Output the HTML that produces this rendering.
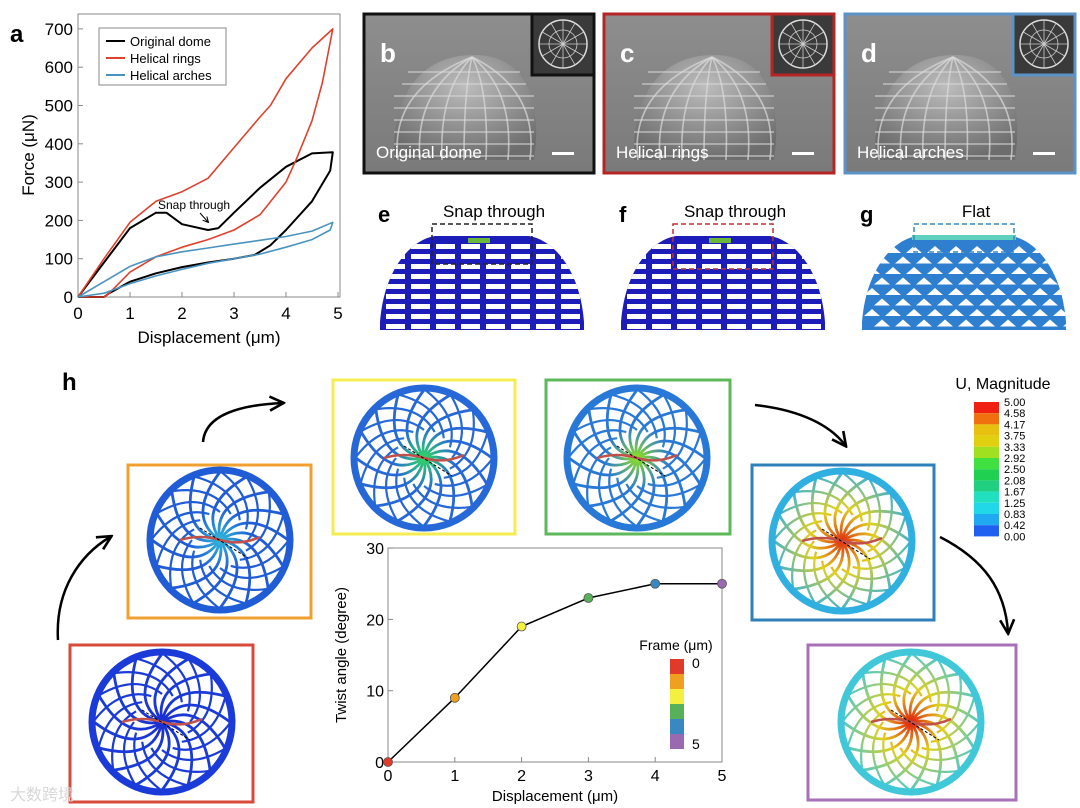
<!DOCTYPE html>
<html><head><meta charset="utf-8"><style>
html,body{margin:0;padding:0;background:#fff;}
svg{display:block;font-family:"Liberation Sans",Arial,sans-serif;}
</style></head><body>
<svg id="fig" width="1080" height="808" viewBox="0 0 1080 808" xmlns="http://www.w3.org/2000/svg">
<defs>
<linearGradient id="semg" x1="0" y1="0" x2="0" y2="1"><stop offset="0" stop-color="#8e8e8e"/><stop offset="1" stop-color="#7a7a7a"/></linearGradient>
<radialGradient id="domeg" cx="0.5" cy="0.3" r="0.7"><stop offset="0" stop-color="#bdbdbd"/><stop offset="1" stop-color="#6d6d6d"/></radialGradient>
<marker id="ah" viewBox="0 0 10 10" refX="8" refY="5" markerWidth="7" markerHeight="7" orient="auto"><path d="M1,1 L9,5 L1,9" fill="none" stroke="#000" stroke-width="1.5"/></marker>
</defs>

<!-- Panel a -->
<g>
<text x="10" y="42" font-size="24" font-weight="bold">a</text>
<rect x="78" y="14" width="262" height="283" fill="none" stroke="#888" stroke-width="1"/>
<g id="aTicks"></g>
<g id="aLines"></g>
<text x="34" y="155" font-size="17" text-anchor="middle" transform="rotate(-90 34 155)">Force (μN)</text>
<text x="209" y="343" font-size="17" text-anchor="middle">Displacement (μm)</text>
<g>
<rect x="99" y="28" width="127" height="57" fill="#fff" stroke="#888"/>
<line x1="106" y1="41" x2="125" y2="41" stroke="#000" stroke-width="2"/><text x="130" y="46" font-size="13">Original dome</text>
<line x1="106" y1="58" x2="125" y2="58" stroke="#e0412c" stroke-width="2"/><text x="130" y="63" font-size="13">Helical rings</text>
<line x1="106" y1="75" x2="125" y2="75" stroke="#4a93c0" stroke-width="2"/><text x="130" y="80" font-size="13">Helical arches</text>
</g>
<text x="158" y="209" font-size="12">Snap through</text>
<path d="M200,213 L208,222" stroke="#000" stroke-width="1" marker-end="url(#ah)"/>
</g>

<g id="sem"></g>
<g id="fe"></g>

<text x="62" y="390" font-size="24" font-weight="bold">h</text>
<g id="frames"></g>
<g fill="none" stroke="#000" stroke-width="2.5">
<path d="M58,640 C55,590 80,555 110,537" marker-end="url(#ah)"/>
<path d="M203,442 C205,415 240,405 282,403" marker-end="url(#ah)"/>
<path d="M755,405 C800,410 830,425 845,445" marker-end="url(#ah)"/>
<path d="M940,537 C985,560 1005,590 1008,632" marker-end="url(#ah)"/>
</g>

<g>
<text x="1003" y="389" font-size="16" text-anchor="middle">U, Magnitude</text>
<g id="cbar"></g>
</g>

<g>
<rect x="388" y="548" width="334" height="214" fill="#fff" stroke="#888"/>
<g id="tTicks"></g>
<g id="tLines"></g>
<text x="346" y="655" font-size="15" text-anchor="middle" transform="rotate(-90 346 655)">Twist angle (degree)</text>
<text x="555" y="801" font-size="15" text-anchor="middle">Displacement (μm)</text>
<text x="676" y="650" font-size="14" text-anchor="middle">Frame (μm)</text>
<g id="fbar"></g>
<text x="692" y="668" font-size="14">0</text>
<text x="692" y="749" font-size="14">5</text>
</g>
<text x="10" y="800" font-size="16" fill="#d8d8d8">大数跨境</text>
</svg>
<script>
const NS="http://www.w3.org/2000/svg";
function mk(tag,attrs,parent){const e=document.createElementNS(NS,tag);for(const k in attrs)e.setAttribute(k,attrs[k]);parent.appendChild(e);return e;}

/* ---- Panel a data ---- */
const aXTicks=[0,1,2,3,4,5];
const aYTicks=[0,100,200,300,400,500,600,700];
const domeX=[0,0.5,1,1.5,1.7,2,2.5,2.7,3,3.5,4,4.5,4.9,4.85,4.5,4,3.7,3.4,3,2.5,2,1.5,1,0.6,0.5,0];
const domeY=[0,90,180,220,220,190,175,180,220,285,340,375,378,330,250,175,135,110,100,90,78,62,40,10,0,0];
const ringsX=[0,0.5,1,1.5,2,2.5,3,3.5,3.7,4,4.5,4.9,4.7,4.5,4.2,4,3.5,3,2.5,2,1.5,1,0.6,0.5,0];
const ringsY=[0,100,195,250,275,310,390,470,500,570,650,700,560,460,360,300,215,175,150,130,105,65,10,0,0];
const archesX=[0,0.5,1,1.5,2,2.5,3,3.5,4,4.5,4.9,4.85,4.5,4,3.5,3,2.5,2,1.5,1,0.5,0];
const archesY=[0,40,80,105,118,128,138,148,158,172,195,175,150,130,112,100,88,72,55,35,10,0];
const ax=v=>78+v*52, ay=v=>297-v*0.383;
const aT=document.getElementById('aTicks');
aXTicks.forEach(v=>{const l=mk('line',{x1:ax(v),y1:297,x2:ax(v),y2:292,stroke:'#888'},aT);

const t=mk('text',{x:ax(v),y:319,'font-size':17,'text-anchor':'middle'},aT);t.textContent=v;
});
aYTicks.forEach(v=>{const l=mk('line',{x1:78,y1:ay(v),x2:83,y2:ay(v),stroke:'#888'},aT);

const t=mk('text',{x:73,y:ay(v)+6,'font-size':17,'text-anchor':'end'},aT);t.textContent=v;
});
const aL=document.getElementById('aLines');
[[domeX,domeY,'#000','original-dome-line'],[ringsX,ringsY,'#e0412c','helical-rings-line'],[archesX,archesY,'#4a93c0','helical-arches-line']].forEach(s=>{
const d=s[0].map((x,i)=>(i?'L':'M')+ax(x).toFixed(1)+','+ay(s[1][i]).toFixed(1)).join(' ');
const p=mk('path',{d:d,fill:'none',stroke:s[2],'stroke-width':s[2]=='#000'?2:1.6,'stroke-linejoin':'round'},aL);
});

/* ---- SEM panels ---- */
const sem=document.getElementById('sem');
[[364,'#111','b','Original dome'],[604,'#b52525','c','Helical rings'],[845,'#5b93c8','d','Helical arches']].forEach(p=>{
const g=mk('g',{},sem);
const x=p[0],w=230;
mk('rect',{x:x,y:14,width:w,height:159,fill:'url(#semg)',stroke:p[1],'stroke-width':3},g);
const cx=x+100;
mk('path',{d:`M${cx-70},160 C${cx-72},90 ${cx-40},55 ${cx+10},55 C${cx+55},55 ${cx+80},90 ${cx+70},160 Z`,fill:'url(#domeg)'},g);
for(let i=1;i<9;i++){const yy=60+i*12;mk('line',{x1:cx-70+ (i<3?20-i*6:0),y1:yy,x2:cx+70-(i<3?20-i*6:0),y2:yy,stroke:'#d8d8d8','stroke-width':1.6,opacity:0.7},g);}
for(let i=-3;i<=3;i++){mk('path',{d:`M${cx+8},57 Q${cx+i*25},90 ${cx+i*22},160`,fill:'none',stroke:'#dcdcdc','stroke-width':1.6,opacity:0.7},g);}
mk('rect',{x:x+w-62,y:14,width:62,height:61,fill:'#3a3a3a',stroke:p[1],'stroke-width':3},g);
mk('circle',{cx:x+w-31,cy:44,r:24,fill:'none',stroke:'#ddd','stroke-width':1.5},g);
for(let k=0;k<12;k++){const a=k*Math.PI/6;mk('line',{x1:x+w-31,y1:44,x2:x+w-31+24*Math.cos(a),y2:44+24*Math.sin(a),stroke:'#ccc','stroke-width':0.8},g);}
mk('circle',{cx:x+w-31,cy:44,r:14,fill:'none',stroke:'#ccc','stroke-width':0.8},g);
const t=mk('text',{x:x+16,y:62,'font-size':26,'font-weight':'bold',fill:'#fff'},g);t.textContent=p[2];

const c=mk('text',{x:x+12,y:158,'font-size':17,fill:'#fff'},g);c.textContent=p[3];

mk('rect',{x:x+w-42,y:152,width:22,height:3,fill:'#fff'},g);
});

/* ---- FE domes ---- */
const fe=document.getElementById('fe');
[[380,'e','Snap through','#1c1cb8','#222'],[621,'f','Snap through','#1c1cb8','#c03030'],[862,'g','Flat','#2f7fd0','#3a86c0']].forEach(p=>{
const g=mk('g',{},fe);
const x=p[0],w=204,cx=x+w/2;
const L=mk('text',{x:x-2,y:222,'font-size':22,'font-weight':'bold'},g);L.textContent=p[1];

const T=mk('text',{x:cx+12,y:217,'font-size':17,'text-anchor':'middle'},g);T.textContent=p[2];

const dpath=`M${x},330 L${x},322 C${x+4},270 ${x+30},240 ${x+55},236 L${x+w-55},236 C${x+w-30},240 ${x+w-4},270 ${x+w},322 L${x+w},330 Z`;
mk('path',{d:dpath,fill:p[3]},g);
const cid='clip'+p[1];const cp=mk('clipPath',{id:cid},g);mk('path',{d:dpath},cp);
const gg=mk('g',{'clip-path':`url(#${cid})`},g);
if(p[1]!=='g'){for(let i=0;i<9;i++){const yy=244+i*10;for(let j=0;j<8;j++){mk('rect',{x:x+6+j*25,y:yy,width:19,height:5,fill:'#fff'},gg);}}}
else{for(let i=0;i<8;i++){const yy=246+i*10.5;for(let j=0;j<10;j++){const xx=x+2+j*21+(i%2)*10;mk('path',{d:`M${xx},${yy+7} L${xx+8},${yy} L${xx+16},${yy+7} Z`,fill:'#fff'},gg);}}}
if(p[1]!=='g'){mk('rect',{x:cx-14,y:238,width:22,height:5,fill:'#6ab83a'},g);}else{mk('rect',{x:x+50,y:235,width:w-100,height:5,fill:'#5fd0c0'},g);}
mk('rect',{x:x+w/2-50,y:224,width:100,height:p[1]==='g'?28:(p[1]==='f'?45:40),fill:'none',stroke:p[4],'stroke-width':1.5,'stroke-dasharray':'5,3'},g);
});

/* ---- Frames ---- */
const frames=[
 {x:70,y:645,w:183,h:157,c:'#d84a3a',cx:162,cy:722,inner:'#1a2fd0',outer:'#1a3bd8',name:'frame-0um'},
 {x:128,y:465,w:183,h:153,c:'#f0a030',cx:220,cy:540,inner:'#30b8d8',outer:'#1f5cd6',name:'frame-1um'},
 {x:333,y:380,w:182,h:154,c:'#f4ec50',cx:424,cy:458,inner:'#30d860',outer:'#2668d8',name:'frame-2um'},
 {x:546,y:380,w:184,h:154,c:'#5cb858',cx:637,cy:458,inner:'#90e020',outer:'#2878d8',name:'frame-3um'},
 {x:752,y:465,w:182,h:155,c:'#2f7fb8',cx:842,cy:541,inner:'#e03010',outer:'#30b0e0',name:'frame-4um'},
 {x:808,y:645,w:208,h:155,c:'#a870b8',cx:911,cy:722,inner:'#e02010',outer:'#40c8d8',name:'frame-5um'}];
const fr=document.getElementById('frames');const defs=document.querySelector('defs');
frames.forEach((f,i)=>{
const g=mk('g',{},fr);
mk('rect',{x:f.x,y:f.y,width:f.w,height:f.h,fill:'#fff',stroke:f.c,'stroke-width':3},g);
const gid='rg'+i;const rg=mk('radialGradient',{id:gid,cx:f.cx,cy:f.cy,r:72,gradientUnits:'userSpaceOnUse'},defs);
mk('stop',{offset:0,'stop-color':f.inner},rg);mk('stop',{offset:0.45,'stop-color':i>=4?'#e0d020':f.outer},rg);mk('stop',{offset:1,'stop-color':f.outer},rg);
const R=70;
for(let k=0;k<16;k++){const a=k*2*Math.PI/16;
 const ex=f.cx+R*Math.cos(a+1.2),ey=f.cy+R*Math.sin(a+1.2);
 const qx=f.cx+R*0.6*Math.cos(a+0.2),qy=f.cy+R*0.6*Math.sin(a+0.2);
 mk('path',{d:`M${f.cx},${f.cy} Q${qx.toFixed(1)},${qy.toFixed(1)} ${ex.toFixed(1)},${ey.toFixed(1)}`,fill:'none',stroke:`url(#${gid})`,'stroke-width':2.8},g);
 const ex2=f.cx+R*Math.cos(a-1.2),ey2=f.cy+R*Math.sin(a-1.2);
 const sx=f.cx+R*0.4*Math.cos(a),sy=f.cy+R*0.4*Math.sin(a);
 mk('path',{d:`M${sx.toFixed(1)},${sy.toFixed(1)} Q${(f.cx+R*0.8*Math.cos(a-0.5)).toFixed(1)},${(f.cy+R*0.8*Math.sin(a-0.5)).toFixed(1)} ${ex2.toFixed(1)},${ey2.toFixed(1)}`,fill:'none',stroke:`url(#${gid})`,'stroke-width':2.2},g);}
mk('circle',{cx:f.cx,cy:f.cy,r:R,fill:'none',stroke:f.outer,'stroke-width':7},g);
mk('path',{d:`M${f.cx-40},${f.cy} Q${f.cx-20},${f.cy-6} ${f.cx},${f.cy} T${f.cx+40},${f.cy-3}`,fill:'none',stroke:'#c0504a','stroke-width':2.5},g);
mk('line',{x1:f.cx-20,y1:f.cy-12,x2:f.cx+28,y2:f.cy+18,stroke:'#000','stroke-width':1,'stroke-dasharray':'3,2'},g);
});

/* ---- U magnitude colorbar ---- */
const cbLabels=['5.00','4.58','4.17','3.75','3.33','2.92','2.50','2.08','1.67','1.25','0.83','0.42','0.00'];
const cbColors=['#f02010','#f07010','#e8c010','#e0d010','#a0e020','#40e040','#20d050','#20d080','#20e0c0','#20d8e8','#20a8f0','#2060f0','#2020e0'];
const cb=document.getElementById('cbar');const cy0=402,step=11.2;
cbColors.slice(0,12).forEach((c,i)=>{const r=mk('rect',{x:974,y:cy0+i*step,width:25,height:step,fill:c},cb);
});
cbLabels.forEach((l,i)=>{const t=mk('text',{x:1004,y:cy0+i*step+4,'font-size':11},cb);t.textContent=l;
});

/* ---- Twist angle chart ---- */
const tX=[0,1,2,3,4,5];
const tY=[0,9,19,23,25,25];
const tColors=['#e03a2a','#f0a020','#f4f040','#58b058','#3a88c0','#9a6ab0'];
const tXTicks=[0,1,2,3,4,5];const tYTicks=[0,10,20,30];
const tx=v=>388+v*66.8, ty=v=>762-v*7.13;
const tT=document.getElementById('tTicks');
tXTicks.forEach(v=>{mk('line',{x1:tx(v),y1:762,x2:tx(v),y2:757,stroke:'#888'},tT);
const t=mk('text',{x:tx(v),y:781,'font-size':16,'text-anchor':'middle'},tT);t.textContent=v;
});
tYTicks.forEach(v=>{mk('line',{x1:388,y1:ty(v),x2:393,y2:ty(v),stroke:'#888'},tT);
const t=mk('text',{x:384,y:ty(v)+6,'font-size':16,'text-anchor':'end'},tT);t.textContent=v;
});
const tL=document.getElementById('tLines');
const tl=mk('path',{d:tX.map((x,i)=>(i?'L':'M')+tx(x)+','+ty(tY[i])).join(' '),fill:'none',stroke:'#000','stroke-width':1.5},tL);

tX.forEach((x,i)=>{const c=mk('circle',{cx:tx(x),cy:ty(tY[i]),r:4.5,fill:tColors[i],stroke:'#555','stroke-width':0.8},tL);
});
const fb=document.getElementById('fbar');
tColors.forEach((c,i)=>{const r=mk('rect',{x:670,y:659+i*15,width:14,height:15,fill:c},fb);
});
</script>
</body></html>
